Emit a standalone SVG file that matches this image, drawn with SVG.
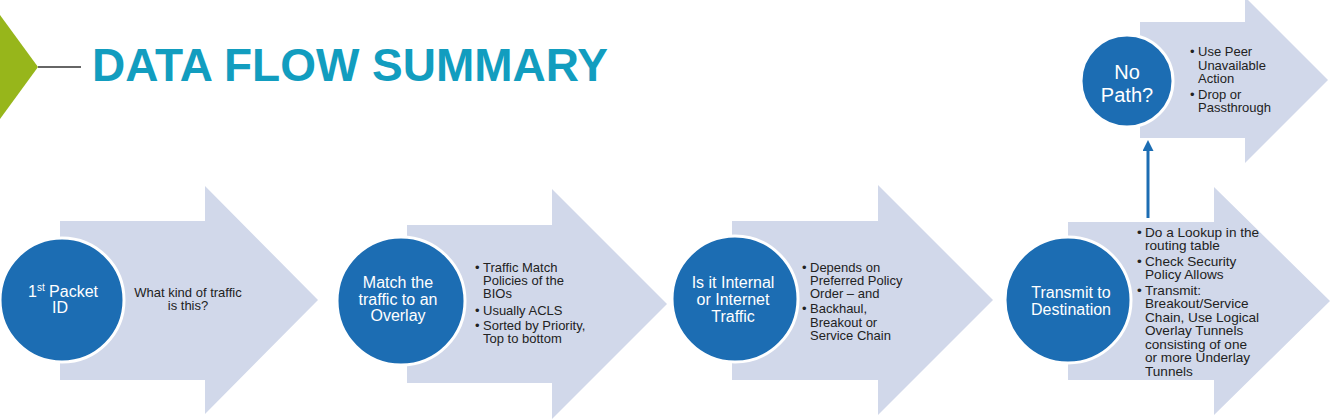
<svg xmlns="http://www.w3.org/2000/svg" width="1334" height="419" viewBox="0 0 1334 419">
  <style>
    .arrow { fill: #d1d8ea; }
    .circ { fill: #1c6db3; stroke: #ffffff; stroke-width: 3; }
    .ct { font-family: "Liberation Sans", Arial, sans-serif; font-size: 16px; fill: #ffffff; text-anchor: middle; }
    .ct20 { font-family: "Liberation Sans", Arial, sans-serif; font-size: 20px; fill: #ffffff; text-anchor: middle; }
    .bt { font-family: "Liberation Sans", Arial, sans-serif; font-size: 13px; fill: #222222; }
    .bt14 { font-family: "Liberation Sans", Arial, sans-serif; font-size: 13.6px; fill: #222222; }
    .title { font-family: "Liberation Sans", Arial, sans-serif; font-size: 46px; font-weight: bold; fill: #129dbf; }
  </style>
  <defs>
    <marker id="ah" markerUnits="userSpaceOnUse" markerWidth="11" markerHeight="11" refX="5" refY="5.5" orient="auto" viewBox="0 0 11 11">
      <path d="M0,0 L11,5.5 L0,11 Z" fill="#1c6db3"/>
    </marker>
  </defs>
  <rect width="1334" height="419" fill="#ffffff"/>

  <g id="header">
    <polygon points="0,15 38,67 0,119" fill="#97b61b"/>
    <line x1="38" y1="67" x2="81" y2="67" stroke="#666666" stroke-width="2"/>
    <text class="title" x="92" y="81" textLength="516" lengthAdjust="spacingAndGlyphs">DATA FLOW SUMMARY</text>
  </g>

  <g id="step1">
    <polygon class="arrow" points="60,221 205,221 205,186 318,300 205,414 205,380 60,380"/>
    <circle class="circ" cx="62" cy="300" r="62"/>
    <text class="ct" x="63" y="297">1<tspan font-size="10" dy="-6">st</tspan><tspan dy="6"> Packet</tspan><tspan x="60" y="313">ID</tspan></text>
    <text class="bt" text-anchor="middle"><tspan x="188" y="297">What kind of traffic</tspan><tspan x="188" y="310">is this?</tspan></text>
  </g>

  <g id="step2">
    <polygon class="arrow" points="407,225 552,225 552,189 667,304 552,419 552,383 407,383"/>
    <circle class="circ" cx="401" cy="301" r="64"/>
    <text class="ct"><tspan x="398" y="288">Match the</tspan><tspan x="398" y="305">traffic to an</tspan><tspan x="398" y="321">Overlay</tspan></text>
    <text class="bt"><tspan x="475" y="272">•</tspan><tspan x="483" y="272">Traffic Match</tspan><tspan x="483" y="285">Policies of the</tspan><tspan x="483" y="298">BIOs</tspan><tspan x="475" y="315">•</tspan><tspan x="483" y="315">Usually ACLS</tspan><tspan x="475" y="330">•</tspan><tspan x="483" y="330">Sorted by Priority,</tspan><tspan x="483" y="343">Top to bottom</tspan></text>
  </g>

  <g id="step3">
    <polygon class="arrow" points="732,221 878,221 878,185 993,300 878,415 878,380 732,380"/>
    <circle class="circ" cx="735" cy="299" r="63"/>
    <text class="ct"><tspan x="733" y="288">Is it Internal</tspan><tspan x="733" y="305">or Internet</tspan><tspan x="733" y="322">Traffic</tspan></text>
    <text class="bt"><tspan x="802" y="272">•</tspan><tspan x="810" y="272">Depends on</tspan><tspan x="810" y="285">Preferred Policy</tspan><tspan x="810" y="298">Order – and</tspan><tspan x="802" y="313">•</tspan><tspan x="810" y="313">Backhaul,</tspan><tspan x="810" y="327">Breakout or</tspan><tspan x="810" y="340">Service Chain</tspan></text>
  </g>

  <g id="step4">
    <polygon class="arrow" points="1068,222 1214,222 1214,187 1330,301 1214,415 1214,380 1068,380"/>
    <circle class="circ" cx="1068" cy="300" r="63"/>
    <text class="ct"><tspan x="1071" y="298">Transmit to</tspan><tspan x="1071" y="315">Destination</tspan></text>
    <text class="bt14"><tspan x="1137" y="237">•</tspan><tspan x="1145" y="237">Do a Lookup in the</tspan><tspan x="1145" y="250">routing table</tspan><tspan x="1137" y="266">•</tspan><tspan x="1145" y="266">Check Security</tspan><tspan x="1145" y="279">Policy Allows</tspan><tspan x="1137" y="295">•</tspan><tspan x="1145" y="295">Transmit:</tspan><tspan x="1145" y="308">Breakout/Service</tspan><tspan x="1145" y="322">Chain, Use Logical</tspan><tspan x="1145" y="335">Overlay Tunnels</tspan><tspan x="1145" y="349">consisting of one</tspan><tspan x="1145" y="362">or more Underlay</tspan><tspan x="1145" y="376">Tunnels</tspan></text>
  </g>

  <g id="step5">
    <polygon class="arrow" points="1140,22 1245,22 1245,-3 1328,80 1245,163 1245,138 1140,138"/>
    <circle class="circ" cx="1127" cy="81" r="46"/>
    <text class="ct20"><tspan x="1127" y="79">No</tspan><tspan x="1127" y="102">Path?</tspan></text>
    <text class="bt"><tspan x="1190" y="56">•</tspan><tspan x="1198" y="56">Use Peer</tspan><tspan x="1198" y="70">Unavailable</tspan><tspan x="1198" y="83">Action</tspan><tspan x="1190" y="99">•</tspan><tspan x="1198" y="99">Drop or</tspan><tspan x="1198" y="112">Passthrough</tspan></text>
  </g>

  <g id="connectors">
    <line x1="1148" y1="218" x2="1148" y2="146" stroke="#1c6db3" stroke-width="3" marker-end="url(#ah)"/>
  </g>
</svg>
